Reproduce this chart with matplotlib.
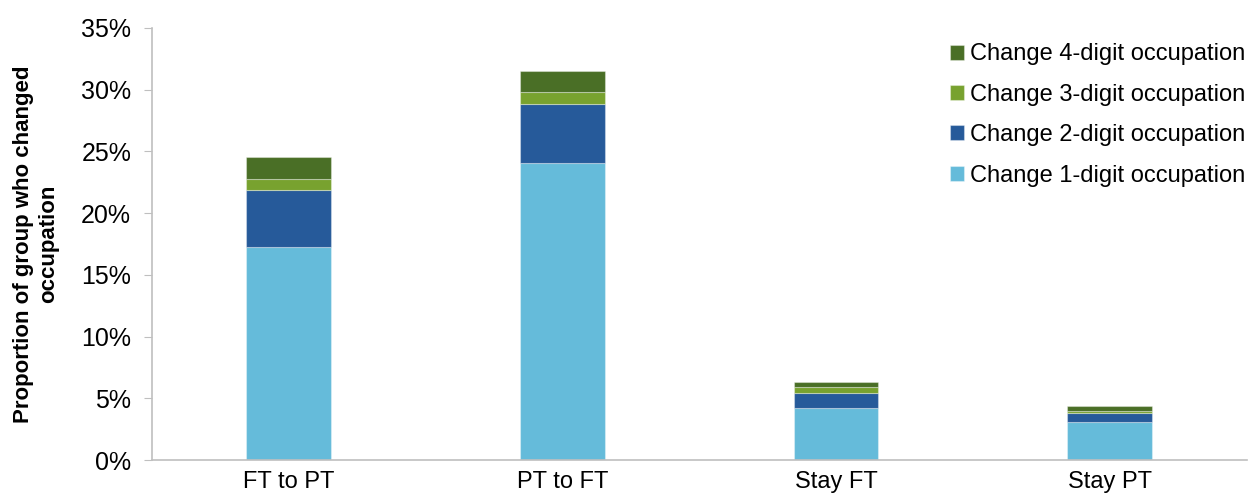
import matplotlib
matplotlib.use("Agg")
import matplotlib.pyplot as plt
from matplotlib.ticker import PercentFormatter

plt.rcParams["font.family"] = ["Liberation Sans", "DejaVu Sans"]

groups = ["FT to PT", "PT to FT", "Stay FT", "Stay PT"]
series = ["Change 1-digit occupation", "Change 2-digit occupation",
          "Change 3-digit occupation", "Change 4-digit occupation"]
digit1 = [17.25, 24.1, 4.2, 3.05]
digit2 = [4.6, 4.7, 1.25, 0.75]
digit3 = [0.9, 1.05, 0.5, 0.17]
digit4 = [1.8, 1.7, 0.4, 0.43]
colors = ["#65bbda", "#265a9a", "#78a22f", "#4a6f26"]

fig = plt.figure(figsize=(12.48, 4.99), dpi=100)
ax = fig.add_axes([0.1218, 0.078, 0.877, 0.866])

x = range(len(groups))
bottom = [0.0] * len(groups)
handles = []
for vals, name, c in zip([digit1, digit2, digit3, digit4], series, colors):
    h = ax.bar(x, vals, width=0.31, bottom=bottom, color=c, label=name,
               edgecolor=(1, 1, 1, 0.35), linewidth=0.8)
    handles.append(h)
    bottom = [b + v for b, v in zip(bottom, vals)]

ax.set_xlim(-0.5, len(groups) - 0.5)
ax.set_ylim(0, 35)
ax.set_yticks(range(0, 36, 5))
ax.yaxis.set_major_formatter(PercentFormatter(decimals=0))
ax.set_xticks(list(x))
ax.set_xticklabels(groups)
ax.tick_params(axis="y", labelsize=18, length=6, color="#bfbfbf", pad=9)
ax.tick_params(axis="x", labelsize=17, length=0, pad=8)

for s in ["top", "right"]:
    ax.spines[s].set_visible(False)
for s in ["left", "bottom"]:
    ax.spines[s].set_color("#bfbfbf")
    ax.spines[s].set_linewidth(1.2)

ax.set_ylabel("Proportion of group who changed\noccupation", fontsize=16,
              fontweight="bold", labelpad=16, linespacing=1.25)

ax.legend(handles[::-1], series[::-1], loc="upper right", frameon=False,
          fontsize=17, handlelength=0.6, handleheight=0.6, handletextpad=0.25,
          labelspacing=0.78, borderpad=0.3, bbox_to_anchor=(1.0164, 1.008))

fig.savefig("out.png", dpi=100)
